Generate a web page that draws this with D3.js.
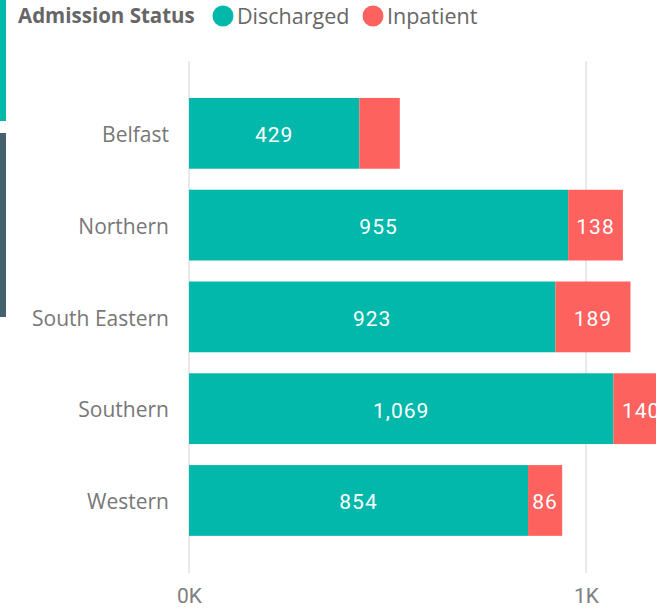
<!DOCTYPE html>
<html>
<head>
<meta charset="utf-8">
<script src="https://cdn.jsdelivr.net/npm/d3@7"></script>
<style>
  body { margin: 0; background: #fff; }
  svg { display: block; }
</style>
</head>
<body>
<div class="graph-container"></div>
<script>
// chart values
var regions = ['Belfast', 'Northern', 'South Eastern', 'Southern', 'Western'];
var discharged = [429, 955, 923, 1069, 854];
var inpatient = [102, 138, 189, 140, 86];
var seriesNames = ['Discharged', 'Inpatient'];
var xTicks = [0, 1000];
var xTickLabels = ['0K', '1K'];

var svgWidth = 656;
var svgHeight = 610;
var colors = ['#01B8AA', '#FD625E'];
var labelFont = 'Roboto, "DejaVu Sans", sans-serif';
var textFont = '"Open Sans", "Noto Sans", sans-serif';

var svg = d3.select('.graph-container').append('svg')
  .attr('width', svgWidth)
  .attr('height', svgHeight);

// little page decorations on the left edge
svg.append('rect')
  .attr('x', 0).attr('y', 0)
  .attr('width', 6).attr('height', 121)
  .attr('fill', '#01B8AA');
svg.append('rect')
  .attr('x', 0).attr('y', 133)
  .attr('width', 6).attr('height', 184)
  .attr('fill', '#45616C');

// scales
var xScale = d3.scaleLinear()
  .domain([0, 1000])
  .range([189, 586]);

var yScale = d3.scaleBand()
  .domain(regions)
  .range([87.4, 546.4])
  .paddingInner(0.229)
  .paddingOuter(0.115);

// gridlines
svg.selectAll('.grid')
  .data(xTicks)
  .enter()
  .append('line')
  .attr('class', 'grid')
  .attr('x1', function(d) { return xScale(d); })
  .attr('x2', function(d) { return xScale(d); })
  .attr('y1', 61)
  .attr('y2', 573)
  .attr('stroke', '#e9e9e9')
  .attr('stroke-width', 2);

// stacked data
var rows = regions.map(function(r, i) {
  return { region: r, Discharged: discharged[i], Inpatient: inpatient[i] };
});
var stacked = d3.stack().keys(seriesNames)(rows);

var layers = svg.selectAll('.layer')
  .data(stacked)
  .enter()
  .append('g')
  .attr('class', 'layer')
  .attr('fill', function(d, i) { return colors[i]; });

layers.selectAll('rect')
  .data(function(d) { return d; })
  .enter()
  .append('rect')
  .attr('x', function(d) { return xScale(d[0]); })
  .attr('y', function(d) { return yScale(d.data.region); })
  .attr('width', function(d) { return xScale(d[1]) - xScale(d[0]); })
  .attr('height', yScale.bandwidth());

// data labels, centred in each segment, hidden if they don't fit
var fmt = d3.format(',');
stacked.forEach(function(layer) {
  layer.forEach(function(d) {
    var x0 = xScale(d[0]);
    var x1 = xScale(d[1]);
    var t = svg.append('text')
      .attr('x', (x0 + x1) / 2)
      .attr('y', yScale(d.data.region) + yScale.bandwidth() / 2)
      .attr('dy', '0.42em')
      .attr('text-anchor', 'middle')
      .style('font-family', labelFont)
      .style('font-size', '21px')
      .style('letter-spacing', '1px')
      .attr('fill', '#fff')
      .text(fmt(d[1] - d[0]));
    if (t.node().getComputedTextLength() + 6 > x1 - x0) t.remove();
  });
});

// y axis (category labels)
var yAxis = d3.axisLeft(yScale).tickSize(0).tickPadding(0);
var yG = svg.append('g')
  .attr('transform', 'translate(169,2)')
  .call(yAxis);
yG.select('.domain').remove();
yG.selectAll('text')
  .style('font-family', textFont)
  .style('font-size', '21px')
  .attr('fill', '#777');

// x axis
var xAxis = d3.axisBottom(xScale)
  .tickValues(xTicks)
  .tickFormat(function(d, i) { return xTickLabels[i]; })
  .tickSize(0)
  .tickPadding(0);
var xG = svg.append('g')
  .attr('transform', 'translate(0,588)')
  .call(xAxis);
xG.select('.domain').remove();
xG.selectAll('text')
  .style('font-family', labelFont)
  .style('font-size', '21px')
  .attr('fill', '#808080');

// legend
var legend = svg.append('g');
legend.append('text')
  .attr('x', 18)
  .attr('y', 16)
  .attr('dy', '0.35em')
  .style('font-family', textFont)
  .style('font-size', '20.5px')
  .style('font-weight', 'bold')
  .attr('fill', '#666')
  .text('Admission Status');

var legendX = [223, 373];
seriesNames.forEach(function(name, i) {
  legend.append('circle')
    .attr('cx', legendX[i])
    .attr('cy', 16)
    .attr('r', 10.5)
    .attr('fill', colors[i]);
  legend.append('text')
    .attr('x', legendX[i] + 14)
    .attr('y', 16)
    .attr('dy', '0.35em')
    .style('font-family', textFont)
    .style('font-size', '21.5px')
    .attr('fill', '#666')
    .text(name);
});
</script>
</body>
</html>
